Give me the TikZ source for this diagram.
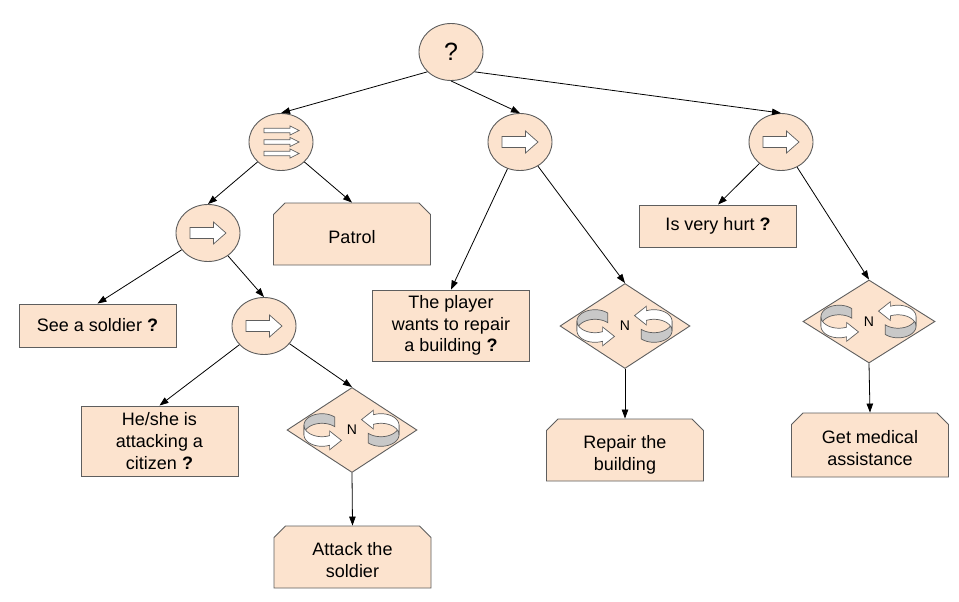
\documentclass[tikz,border=0pt]{standalone}
\usepackage{fontspec}
\setmainfont{Liberation Sans}
\usetikzlibrary{shapes.geometric,shapes.misc,arrows.meta}
\definecolor{peach}{HTML}{FCE3CE}
\definecolor{edgegray}{HTML}{5E5E5E}
\definecolor{bandgray}{HTML}{C8C8C8}
\newcommand\lowtext[1]{\raisebox{-5pt}[\height][\depth]{\begin{tabular}{@{}c@{}}#1\end{tabular}}}
\tikzset{
  base/.style={draw=edgegray, fill=peach, line width=0.9pt, inner sep=0pt, align=center},
  ctrl/.style={base, ellipse, minimum width=64pt, minimum height=57pt},
  cond/.style={base, rectangle, minimum width=157pt},
  act/.style={base, chamfered rectangle, chamfered rectangle corners={north west,north east}, chamfered rectangle xsep=8pt, chamfered rectangle angle=45, minimum width=157pt},
  dec/.style={base, diamond, minimum width=130pt, minimum height=85pt, font=\fontsize{14}{16}\selectfont},
  edge/.style={-{Triangle[length=9pt,width=6.5pt]}, line width=0.8pt, black},
  icon/.style={draw=edgegray, fill=white, line width=0.7pt, line join=miter},
  seqarrow/.pic={\draw[icon] (-18,-5.5) -- (5.5,-5.5) -- (5.5,-11) -- (18,0) -- (5.5,11) -- (5.5,5.5) -- (-18,5.5) -- cycle;},
  triple/.pic={\foreach \yy in {-11.5,0,11.5}{\draw[icon] (-17,\yy-2.3) -- (9,\yy-2.3) -- (9,\yy-4.6) -- (18,\yy) -- (9,\yy+4.6) -- (9,\yy+2.3) -- (-17,\yy+2.3) -- cycle;}},
  ring/.pic={
    \draw[draw=edgegray, fill=bandgray, line width=0.7pt]
      plot[domain=-45:-180, samples=25, variable=\t] ({18*cos(\t)},{11.5*sin(\t)-4.8})
      -- plot[domain=-180:-45, samples=25, variable=\t] ({18*cos(\t)},{11.5*sin(\t)+4.8}) -- cycle;
    \draw[icon]
      plot[domain=180:65, samples=25, variable=\t] ({18*cos(\t)},{11.5*sin(\t)-4.8})
      -- (7.61,1.0) -- (19.5,10.4) -- (7.61,19.8) -- (7.61,15.2)
      -- plot[domain=65:180, samples=25, variable=\t] ({18*cos(\t)},{11.5*sin(\t)+4.8}) -- cycle;
  }
}
\begin{document}
\begin{tikzpicture}[x=1pt, y=-1pt, font=\fontsize{18}{21.7}\selectfont]
\fill[white] (0,0) rectangle (959,602);
\useasboundingbox (0,0) rectangle (959,602);

% control nodes
\node[ctrl, font=\fontsize{25}{28}\selectfont] (root) at (451,52) {?};
\node[ctrl] (s1) at (281,142) {};
\node[ctrl] (s2) at (520,142) {};
\node[ctrl] (s3) at (781,142) {};
\node[ctrl] (s4) at (208,233) {};
\node[ctrl] (s5) at (264,326) {};
\pic at (s1) {triple};
\pic at (s2) {seqarrow};
\pic at (s3) {seqarrow};
\pic at (s4) {seqarrow};
\pic at (s5) {seqarrow};

% leaves
\node[act, minimum height=62pt] (patrol) at (352,234) {\lowtext{Patrol}};
\node[cond, minimum height=43pt] (see) at (97.5,325.5) {See a soldier \textbf{?}};
\node[cond, minimum height=70pt] (att) at (159.5,441) {He/she is\\attacking a\\citizen \textbf{?}};
\node[dec] (d1) at (352,430) {N};
\node[act, minimum height=62pt] (attack) at (352.5,557) {\lowtext{Attack the\\soldier}};
\node[cond, minimum height=71pt] (player) at (451,325.5) {The player\\wants to repair\\a building \textbf{?}};
\node[dec] (d2) at (625,326) {N};
\node[act, minimum height=62pt] (repair) at (625,450) {\lowtext{Repair the\\building}};
\node[cond, minimum height=42pt] (hurt) at (718,226) {Is very hurt \textbf{?}};
\node[dec, minimum width=132pt, minimum height=83pt] (d3) at (869,321.5) {N};
\node[act, minimum height=64pt] (medical) at (870,445) {\lowtext{Get medical\\assistance}};

\foreach \d in {d1,d2,d3}{
  \pic at ([xshift=-30pt]\d.center) {ring};
  \pic[rotate=180] at ([xshift=29pt]\d.center) {ring};
}

% edges
\draw[edge] (root.-140) -- (s1.north);
\draw[edge] (root.south) -- (s2.north);
\draw[edge] (root.-40) -- (s3.north);
\draw[edge] (s1) -- (s4.north);
\draw[edge] (s1) -- (patrol.north);
\draw[edge] (s4) -- (see.north);
\draw[edge] (s4) -- (s5.north);
\draw[edge] (s5) -- (att.north);
\draw[edge] (s5) -- (d1.north);
\draw[edge] (d1.south) -- (attack.north);
\draw[edge] (s2) -- (player.north);
\draw[edge] (s2) -- (d2.north);
\draw[edge] (d2.south) -- (repair.north);
\draw[edge] (s3) -- (hurt.north);
\draw[edge] (s3) -- (d3.north);
\draw[edge] (d3.south) -- (medical.north);
\end{tikzpicture}
\end{document}
